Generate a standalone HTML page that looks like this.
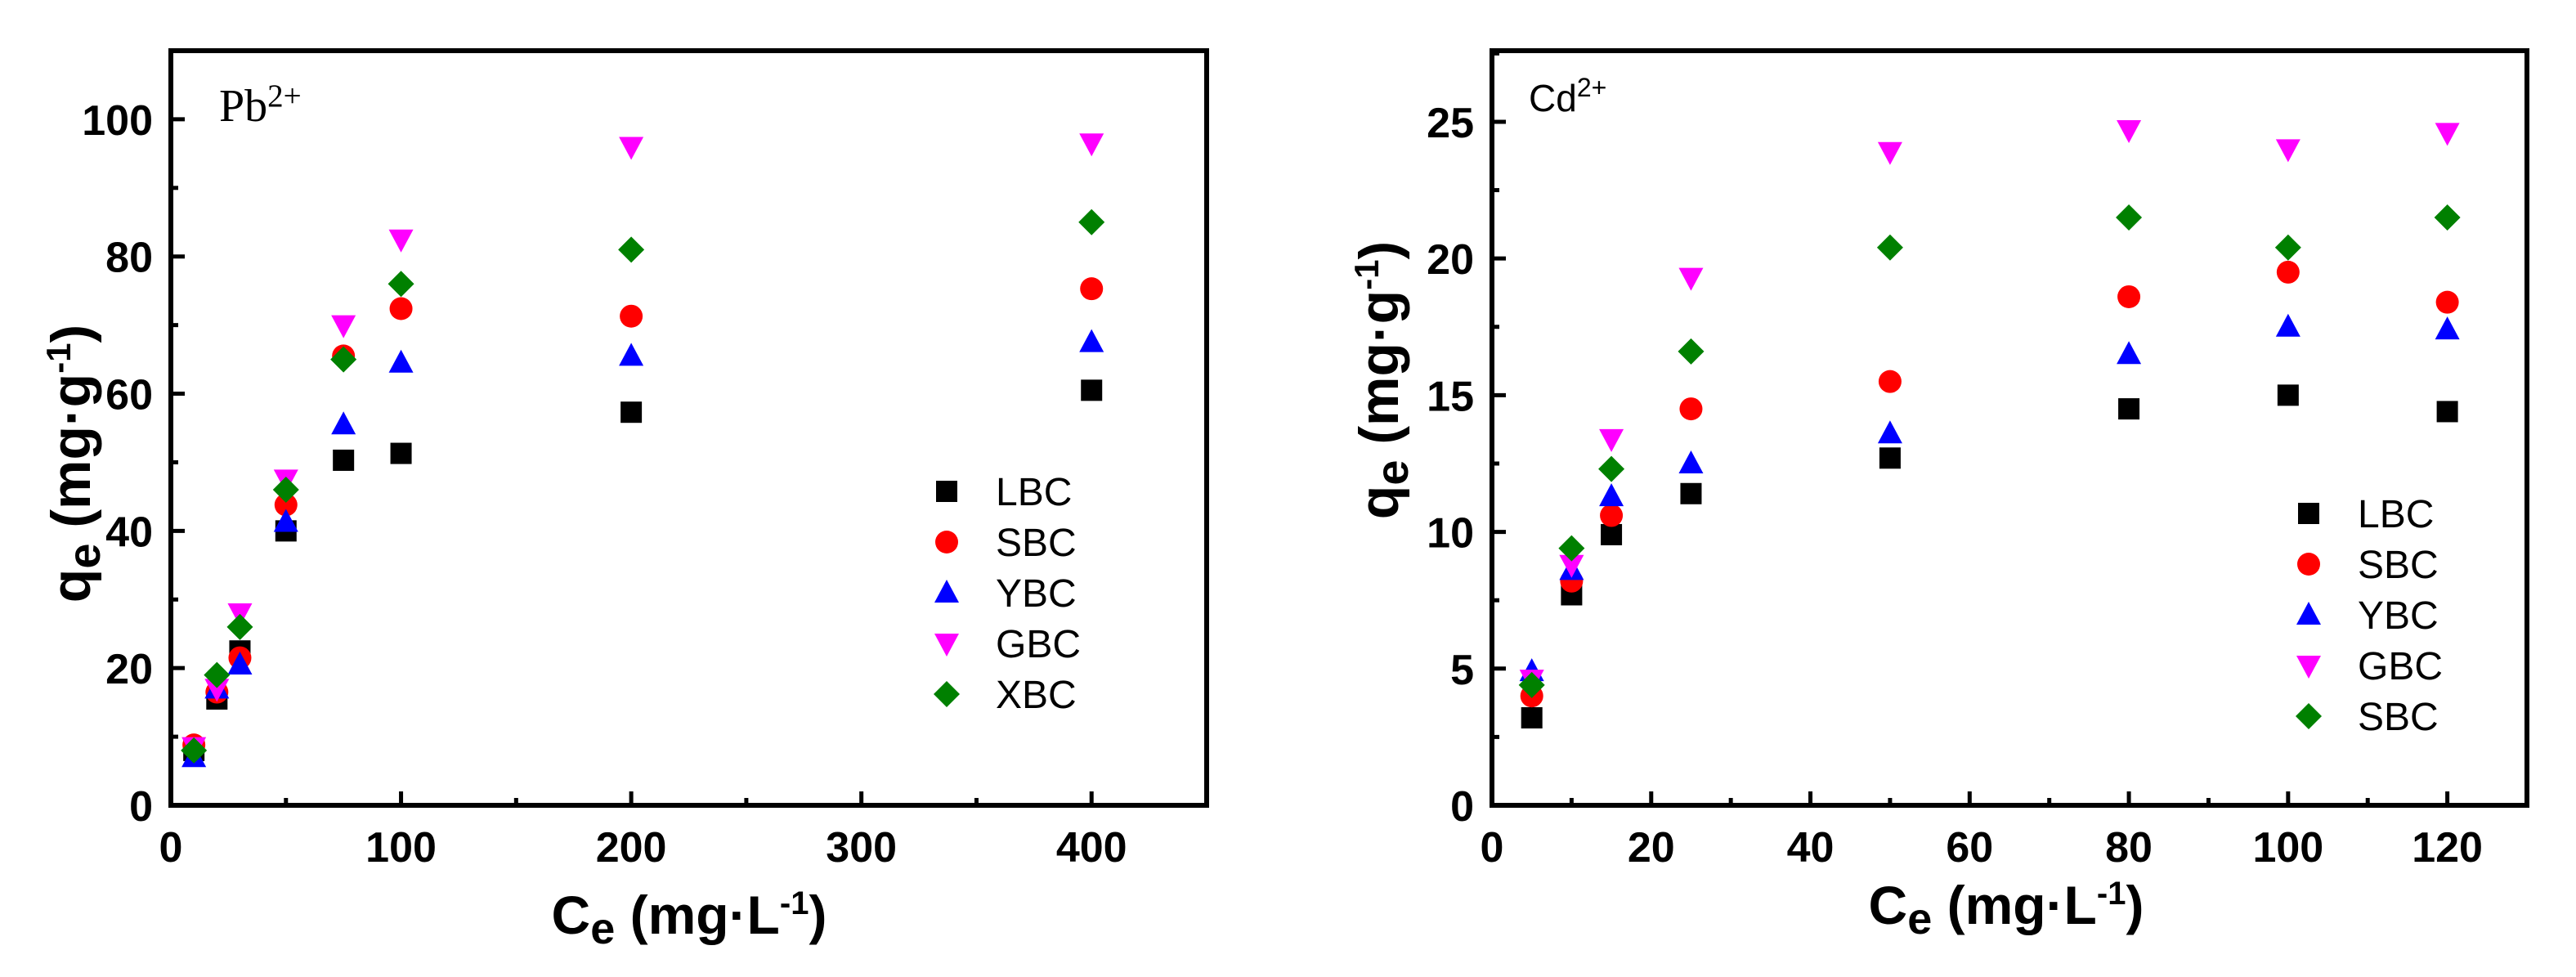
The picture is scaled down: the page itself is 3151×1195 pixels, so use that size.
<!DOCTYPE html>
<html><head><meta charset="utf-8"><style>
html,body{margin:0;padding:0;background:#fff;}
svg{display:block;}
</style></head><body>
<svg id="chart" width="3151" height="1195" viewBox="0 0 3151 1195" xmlns="http://www.w3.org/2000/svg"></svg>
<script>
// ---- Pb panel data ----
const pbX = [10, 20, 30, 50, 75, 100, 200, 400];
const pbLBC = [8, 15.5, 22.5, 40, 50.3, 51.3, 57.3, 60.5];
const pbSBC = [8.8, 16.5, 21.5, 43.8, 65.5, 72.4, 71.3, 75.3];
const pbYBC = [7, 17, 20.5, 41.3, 55.5, 64.5, 65.5, 67.5];
const pbGBC = [8.5, 17, 28, 47.5, 70, 82.5, 96, 96.5];
const pbXBC = [8, 19, 26, 46, 65, 76, 81, 85];
const pbLegend = ["LBC", "SBC", "YBC", "GBC", "XBC"];
const pbXTicks = [0, 100, 200, 300, 400];
const pbYTicks = [0, 20, 40, 60, 80, 100];
// ---- Cd panel data ----
const cdX = [5, 10, 15, 25, 50, 80, 100, 120];
const cdLBC = [3.2, 7.7, 9.9, 11.4, 12.7, 14.5, 15.0, 14.4];
const cdSBC = [4.0, 8.2, 10.6, 14.5, 15.5, 18.6, 19.5, 18.4];
const cdYBC = [4.9, 8.6, 11.3, 12.5, 13.6, 16.5, 17.5, 17.4];
const cdGBC = [4.6, 8.8, 13.4, 19.3, 23.9, 24.7, 24.0, 24.6];
const cdXBC = [4.4, 9.4, 12.3, 16.6, 20.4, 21.5, 20.4, 21.5];
const cdLegend = ["LBC", "SBC", "YBC", "GBC", "SBC"];
const cdXTicks = [0, 20, 40, 60, 80, 100, 120];
const cdYTicks = [0, 5, 10, 15, 20, 25];

const NS = "http://www.w3.org/2000/svg";
const svg = document.getElementById("chart");
function mk(tag, attrs, parent) {
  const e = document.createElementNS(NS, tag);
  for (const k in attrs) e.setAttribute(k, attrs[k]);
  (parent || svg).appendChild(e);
  return e;
}
const colors = ["#000000", "#ff0000", "#0000ff", "#ff00ff", "#008000"];
const shapes = ["square", "circle", "up", "down", "diamond"];
function marker(shape, cx, cy, color, parent) {
  const s = 13;
  if (shape === "square") return mk("rect", {x: cx - s, y: cy - s, width: 2 * s, height: 2 * s, fill: color}, parent);
  if (shape === "circle") return mk("circle", {cx: cx, cy: cy, r: 14, fill: color}, parent);
  if (shape === "up") return mk("polygon", {points: `${cx},${cy - 16} ${cx + 15},${cy + 12} ${cx - 15},${cy + 12}`, fill: color}, parent);
  if (shape === "down") return mk("polygon", {points: `${cx},${cy + 16} ${cx + 15},${cy - 12} ${cx - 15},${cy - 12}`, fill: color}, parent);
  return mk("polygon", {points: `${cx},${cy - 16} ${cx + 16},${cy} ${cx},${cy + 16} ${cx - 16},${cy}`, fill: color}, parent);
}

function panel(cfg) {
  const g = mk("g", {});
  
  
  const L = cfg.left, R = cfg.right, T = 62, B = 985;
  const xs = v => L + (v - cfg.xmin) / (cfg.xmax - cfg.xmin) * (R - L);
  const ys = v => B - v / cfg.ymax * (B - T);
  const fr = mk("rect", {x: L, y: T, width: R - L, height: B - T, fill: "none", stroke: "#000", "stroke-width": 6}, g);
  
  
  cfg.xTicks.forEach(v => {
    const x = xs(v);
    mk("line", {x1: x, y1: B, x2: x, y2: B - 17, stroke: "#000", "stroke-width": 5}, g);
    const t = mk("text", {x: x, y: 1054, "text-anchor": "middle", "font-family": "Liberation Sans, sans-serif", "font-weight": "bold", "font-size": 52}, g);
    t.textContent = v;
    
    
  });
  for (let i = 0; i < cfg.xTicks.length; i++) {
    const step = cfg.xTicks[1] - cfg.xTicks[0];
    const v = cfg.xTicks[i] + step / 2;
    if (v < cfg.xmax) mk("line", {x1: xs(v), y1: B, x2: xs(v), y2: B - 9, stroke: "#000", "stroke-width": 5}, g);
  }
  cfg.yTicks.forEach((v, i) => {
    const y = ys(v);
    mk("line", {x1: L, y1: y, x2: L + 17, y2: y, stroke: "#000", "stroke-width": 5}, g);
    const step = cfg.yTicks[1] - cfg.yTicks[0];
    if (v + step / 2 < cfg.ymax) mk("line", {x1: L, y1: ys(v + step / 2), x2: L + 9, y2: ys(v + step / 2), stroke: "#000", "stroke-width": 5}, g);
    const t = mk("text", {x: L - 22, y: y + 19, "text-anchor": "end", "font-family": "Liberation Sans, sans-serif", "font-weight": "bold", "font-size": 52}, g);
    t.textContent = v;
    
    
  });
  cfg.series.forEach((arr, si) => {
    const sg = mk("g", {}, g);
    
    
    arr.forEach((v, i) => {
      const m = marker(shapes[si], xs(cfg.x[i]), ys(v), colors[si], sg);
      
      
    });
  });
  const lg = mk("g", {}, g);
  
  
  cfg.legend.forEach((name, i) => {
    const y = cfg.legY + i * 62;
    marker(shapes[i], cfg.legX, y, colors[i], lg);
    const t = mk("text", {x: cfg.legX + 60, y: y + 17, "font-family": "Liberation Sans, sans-serif", "font-size": 48}, lg);
    t.textContent = name;
    
    
  });
  const il = mk("text", {x: cfg.ionX, y: cfg.ionY, "font-family": cfg.ionFont, "font-size": cfg.ionSize}, g);
  
  
  il.innerHTML = cfg.ion + '<tspan dy="-18" font-size="' + Math.round(cfg.ionSize * 0.7) + '">2+</tspan>';
  const xt = mk("text", {x: cfg.xtX, y: cfg.xtY, "text-anchor": "middle", "font-family": "Liberation Sans, sans-serif", "font-weight": "bold", "font-size": 66}, g);
  
  
  xt.innerHTML = 'C<tspan dy="12" font-size="54">e</tspan><tspan dy="-12"> (mg·L</tspan><tspan dy="-24" font-size="40">-1</tspan><tspan dy="24">)</tspan>';
  const yt = mk("text", {x: 0, y: 0, "text-anchor": "middle", "font-family": "Liberation Sans, sans-serif", "font-weight": "bold", "font-size": 68, transform: `translate(${cfg.ytX},${cfg.ytY}) rotate(-90)`}, g);
  
  
  yt.innerHTML = 'q<tspan dy="12" font-size="56">e</tspan><tspan dy="-12"> (mg·g</tspan><tspan dy="-24" font-size="42">-1</tspan><tspan dy="24">)</tspan>';
}

panel({name: "pb-panel", left: 209, right: 1476, xmin: 0, xmax: 450, ymax: 110,
  x: pbX, series: [pbLBC, pbSBC, pbYBC, pbGBC, pbXBC], legend: pbLegend,
  xTicks: pbXTicks, yTicks: pbYTicks, legX: 1158, legY: 601,
  ion: "Pb", ionX: 268, ionY: 148, ionFont: "Liberation Serif, serif", ionSize: 56,
  xtX: 843, xtY: 1142, ytX: 110, ytY: 567});
panel({name: "cd-panel", left: 1825, right: 3091, xmin: 0, xmax: 130, ymax: 27.6,
  x: cdX, series: [cdLBC, cdSBC, cdYBC, cdGBC, cdXBC], legend: cdLegend,
  xTicks: cdXTicks, yTicks: cdYTicks, legX: 2824, legY: 628,
  ion: "Cd", ionX: 1870, ionY: 136, ionFont: "Liberation Sans, sans-serif", ionSize: 46,
  xtX: 2454, xtY: 1130, ytX: 1710, ytY: 465});
</script>
</body></html>
